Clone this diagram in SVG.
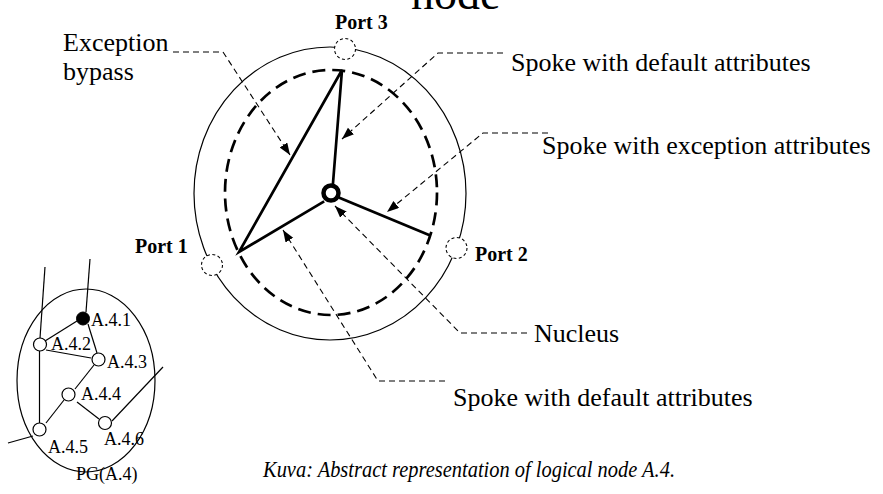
<svg xmlns="http://www.w3.org/2000/svg" width="883" height="494" viewBox="0 0 883 494">
<style>
.t{font-family:"Liberation Serif","Times New Roman",serif;fill:#000}
.lbl{font-size:26px}
.port{font-size:20px;font-weight:bold}
.pg{font-size:18px}
.thin{fill:none;stroke:#000;stroke-width:1.2}
.lead{fill:none;stroke:#000;stroke-width:1.1;stroke-dasharray:6 4;marker-end:url(#ah)}
.spoke{fill:none;stroke:#000;stroke-width:2.7;stroke-linecap:square}
.portc{fill:#fff;stroke:#000;stroke-width:1.1;stroke-dasharray:3 2.5}
.gn{fill:#fff;stroke:#000;stroke-width:1.2}
</style>
<defs>
<marker id="ah" markerUnits="userSpaceOnUse" markerWidth="14" markerHeight="10" refX="12" refY="4.5" orient="auto">
<path d="M0,0 L12,4.5 L0,9 z" fill="#000"/>
</marker>
</defs>
<text class="t" x="411" y="9" font-size="46">node</text>
<g id="outer">
<ellipse cx="330" cy="193.5" rx="136" ry="146.5" class="thin"/>
</g>
<g id="inner">
<ellipse cx="331" cy="192.5" rx="106" ry="122.5" fill="none" stroke="#000" stroke-width="2.7" stroke-dasharray="13 7"/>
</g>
<g id="spokes">
<path class="spoke" d="M333,183 L342,70 L239,252 L323,202"/>
<path class="spoke" d="M340,198 L429,235"/>
</g>
<g id="nucleus">
<circle cx="331" cy="193" r="7.5" fill="#fff" stroke="#000" stroke-width="4.5"/>
</g>
<g id="port3"><circle cx="345" cy="49" r="10.5" class="portc"/><text class="t port" x="335" y="29">Port 3</text></g>
<g id="port1"><circle cx="212" cy="265" r="10.5" class="portc"/><text class="t port" x="135" y="253">Port 1</text></g>
<g id="port2"><circle cx="456.5" cy="248" r="10.5" class="portc"/><text class="t port" x="475" y="261">Port 2</text></g>
<g id="connectors">
<path class="lead" d="M173,52 H223 L290,155"/>
<path class="lead" d="M503,53 H438 L342,139"/>
<path class="lead" d="M548,133 H483 L387,212"/>
<path class="lead" d="M527,333 H460 L335,206"/>
<path class="lead" d="M445,381 H378 L283,230"/>
</g>
<g id="labels">
<text class="t lbl" x="63" y="51">Exception</text>
<text class="t lbl" x="63" y="80">bypass</text>
<text class="t lbl" x="511" y="71">Spoke with default attributes</text>
<text class="t lbl" x="542" y="154">Spoke with exception attributes</text>
<text class="t lbl" x="534" y="342">Nucleus</text>
<text class="t lbl" x="453" y="406">Spoke with default attributes</text>
</g>
<g id="pg">
<ellipse cx="86" cy="380.5" rx="69" ry="91.5" class="thin"/>
<g class="thin">
<line x1="90" y1="259" x2="86" y2="312"/>
<line x1="45" y1="267" x2="40" y2="338"/>
<line x1="77" y1="321" x2="45" y2="341"/>
<line x1="88" y1="324" x2="97" y2="353"/>
<line x1="46" y1="350" x2="91" y2="358"/>
<line x1="94" y1="365" x2="75" y2="389"/>
<line x1="64" y1="400" x2="46" y2="423"/>
<line x1="77" y1="402" x2="99" y2="419"/>
<line x1="112" y1="421" x2="163" y2="367"/>
<line x1="39.5" y1="351" x2="39.5" y2="423"/>
<line x1="33" y1="436" x2="8" y2="443"/>
</g>
<g id="n441"><circle cx="83" cy="318.5" r="6.5" fill="#000" stroke="#000"/><text class="t pg" x="91" y="326">A.4.1</text></g>
<g id="n442"><circle cx="40" cy="344.5" r="6.5" class="gn"/><text class="t pg" x="51" y="350">A.4.2</text></g>
<g id="n443"><circle cx="98.5" cy="359.5" r="6.5" class="gn"/><text class="t pg" x="107" y="368">A.4.3</text></g>
<g id="n444"><circle cx="68.5" cy="394.5" r="6.5" class="gn"/><text class="t pg" x="81" y="400">A.4.4</text></g>
<g id="n445"><circle cx="39.5" cy="429.5" r="6.5" class="gn"/><text class="t pg" x="48" y="453">A.4.5</text></g>
<g id="n446"><circle cx="105" cy="423" r="6.5" class="gn"/><text class="t pg" x="104" y="445">A.4.6</text></g>
<text class="t pg" x="76" y="480">PG(A.4)</text>
</g>
<text class="t" x="263" y="477" font-size="23" font-style="italic" textLength="412" lengthAdjust="spacingAndGlyphs">Kuva: Abstract representation of logical node A.4.</text>
</svg>
